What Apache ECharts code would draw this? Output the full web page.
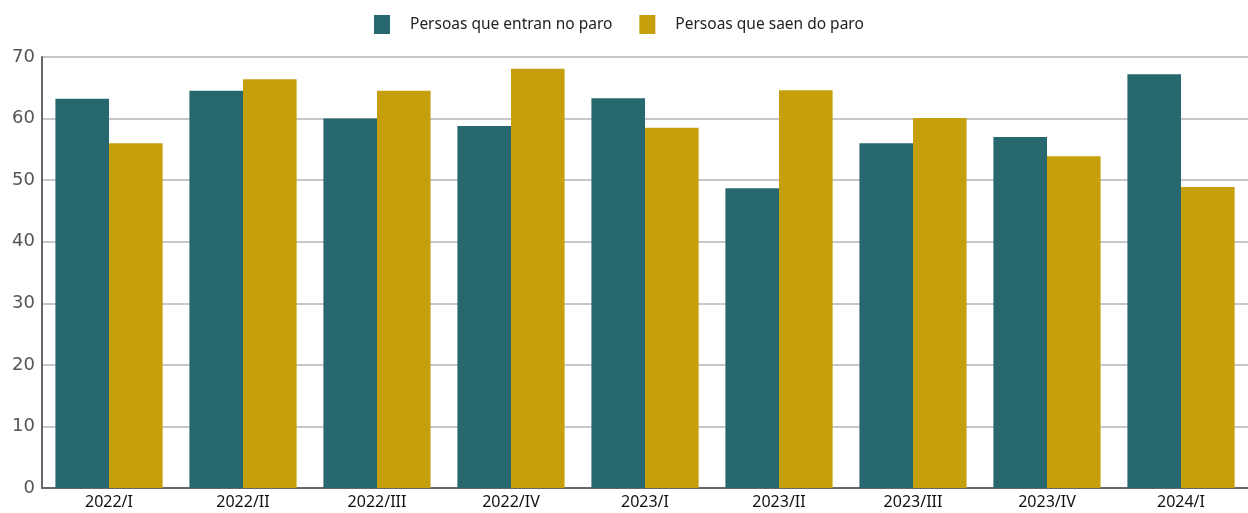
<!DOCTYPE html>
<html lang="gl">
<head>
<meta charset="UTF-8">
<title>Persoas que entran e saen do paro</title>
<script src="https://cdn.jsdelivr.net/npm/echarts@6/dist/echarts.min.js"></script>
<style>
    html, body {margin: 0; padding: 0; background: #fff;}
    #chart {width: 1248px; height: 513px;}
</style>
</head>
<body>
<div id="chart"></div>
<script>
    // datos
    var categorias = ['2022/I', '2022/II', '2022/III', '2022/IV', '2023/I', '2023/II', '2023/III', '2023/IV', '2024/I']
    var entran = [63.2, 64.5, 60.0, 58.8, 63.3, 48.7, 56.0, 57.0, 67.2]
    var saen = [56.0, 66.4, 64.5, 68.1, 58.5, 64.6, 60.1, 53.9, 48.9]
    var nomes = ['Persoas que entran no paro', 'Persoas que saen do paro']

    var chart = echarts.init(document.getElementById('chart'))
    var option = {
        animation: false,
        legend: {
            data: nomes,
            top: 10,
            left: 369,
            itemWidth: 16,
            itemHeight: 19,
            itemGap: 27,
            icon: 'rect',
            textStyle: {fontSize: 15.5, color: '#222', padding: [0, 0, 0, 15], fontFamily: 'Noto Sans'}
        },
        grid: {left: 42, right: 0, top: 57, bottom: 25, containLabel: false},
        xAxis: {
            type: 'category',
            data: categorias,
            axisLine: {lineStyle: {color: '#666', width: 2}},
            axisTick: {show: false},
            axisLabel: {color: '#111', fontSize: 16, margin: 6, fontFamily: 'Noto Sans'}
        },
        yAxis: {
            type: 'value',
            min: 0,
            max: 70,
            interval: 10,
            axisLine: {show: true, lineStyle: {color: '#666', width: 2}},
            axisTick: {show: false},
            axisLabel: {color: '#555', fontSize: 18, margin: 7, fontFamily: 'DejaVu Sans'},
            splitLine: {lineStyle: {color: '#b5b5b5', width: 1.5}}
        },
        series: [
            {
                name: nomes[0],
                type: 'bar',
                data: entran,
                barGap: '0%',
                barCategoryGap: '20%',
                itemStyle: {color: '#27686e'}
            },
            {
                name: nomes[1],
                type: 'bar',
                data: saen,
                itemStyle: {color: '#c6a00c'}
            }
        ]
    }
    chart.setOption(option)
</script>
</body>
</html>
